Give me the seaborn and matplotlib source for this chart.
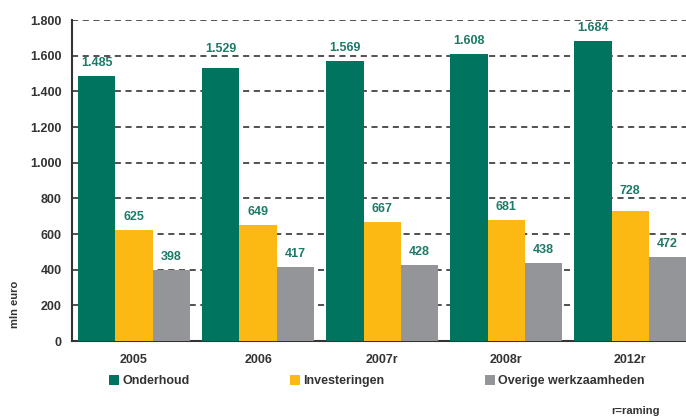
import matplotlib
matplotlib.use('Agg')
import matplotlib.pyplot as plt
import seaborn as sns
import pandas as pd

jaren = ['2005', '2006', '2007r', '2008r', '2012r']
onderhoud = [1485, 1529, 1569, 1608, 1684]
investeringen = [625, 649, 667, 681, 728]
overige = [398, 417, 428, 438, 472]
reeksen = ['Onderhoud', 'Investeringen', 'Overige werkzaamheden']
kleuren = ['#00745f', '#fdb913', '#939598']

df = pd.DataFrame({
    'jaar': jaren * 3,
    'waarde': onderhoud + investeringen + overige,
    'reeks': [r for r in reeksen for _ in jaren],
})

sns.set_style('white')
plt.rcParams['font.family'] = ['Liberation Sans', 'DejaVu Sans']
plt.rcParams['font.weight'] = 'bold'

fig = plt.figure(figsize=(6.86, 4.17), dpi=100)
ax = fig.add_axes([0.105, 0.182, 0.895, 0.77])

sns.barplot(data=df, x='jaar', y='waarde', hue='reeks', palette=kleuren,
            width=0.9, saturation=1, ax=ax, zorder=3, legend=True,
            linewidth=0, edgecolor='none')

ax.set_ylim(0, 1800)
ax.set_xlim(-0.5, 4.45)
ticks = list(range(0, 1801, 200))

# labels boven de balk, net boven een rasterlijn als ze er anders op vallen
px = 1800 / (0.77 * 417)
tekst = '#1d7a68'
for cont in ax.containers:
    for bar, v in zip(cont.patches, cont.datavalues):
        onder = v + 8 * px
        boven = onder + 9 * px
        for g in ticks:
            if onder - 2 * px < g < boven + 2 * px:
                onder = g + 2 * px
        ax.text(bar.get_x() + bar.get_width() / 2, onder + 5 * px,
                f'{v:,.0f}'.replace(',', '.'), ha='center', va='center',
                color=tekst, fontsize=9, fontweight='bold', zorder=4)

ax.set_yticks(ticks)
ax.set_yticklabels([f'{v:,}'.replace(',', '.') for v in ticks])
ax.yaxis.grid(True, linestyle=(0, (4, 3)), color='#222222', linewidth=1.1, zorder=0)
ax.set_axisbelow(True)

ax.set_xticks([0.5, 1.5, 2.5, 3.5], minor=True)
ax.tick_params(axis='x', which='major', length=0, pad=9, labelsize=9, labelcolor='#333333')
ax.tick_params(axis='x', which='minor', length=5, width=1.5, direction='out', color='#333333')
ax.tick_params(axis='y', length=8, width=1.5, direction='inout', labelsize=9, labelcolor='#333333', color='#333333')

for s in ['top', 'right']:
    ax.spines[s].set_visible(False)
for s in ['left', 'bottom']:
    ax.spines[s].set_linewidth(1.5)
    ax.spines[s].set_color('#333333')

ax.set_xlabel('')
ax.set_ylabel('')
fig.text(0.022, 0.27, 'mln euro', rotation=90, ha='center', va='center',
         fontsize=8, fontweight='bold', color='#333333')

h, l = ax.get_legend_handles_labels()
ax.legend_.remove()
leg = fig.legend(h, l, loc='center left', bbox_to_anchor=(0.142, 0.086), ncol=3,
                 frameon=False, fontsize=9, handlelength=0.8, handleheight=0.8,
                 handletextpad=0.3, columnspacing=8.0)
for t in leg.get_texts():
    t.set_color('#333333')

fig.text(0.962, 0.003, 'r=raming', ha='right', va='bottom', fontsize=8,
         fontweight='bold', color='#333333')

fig.savefig('out.png', dpi=100)
